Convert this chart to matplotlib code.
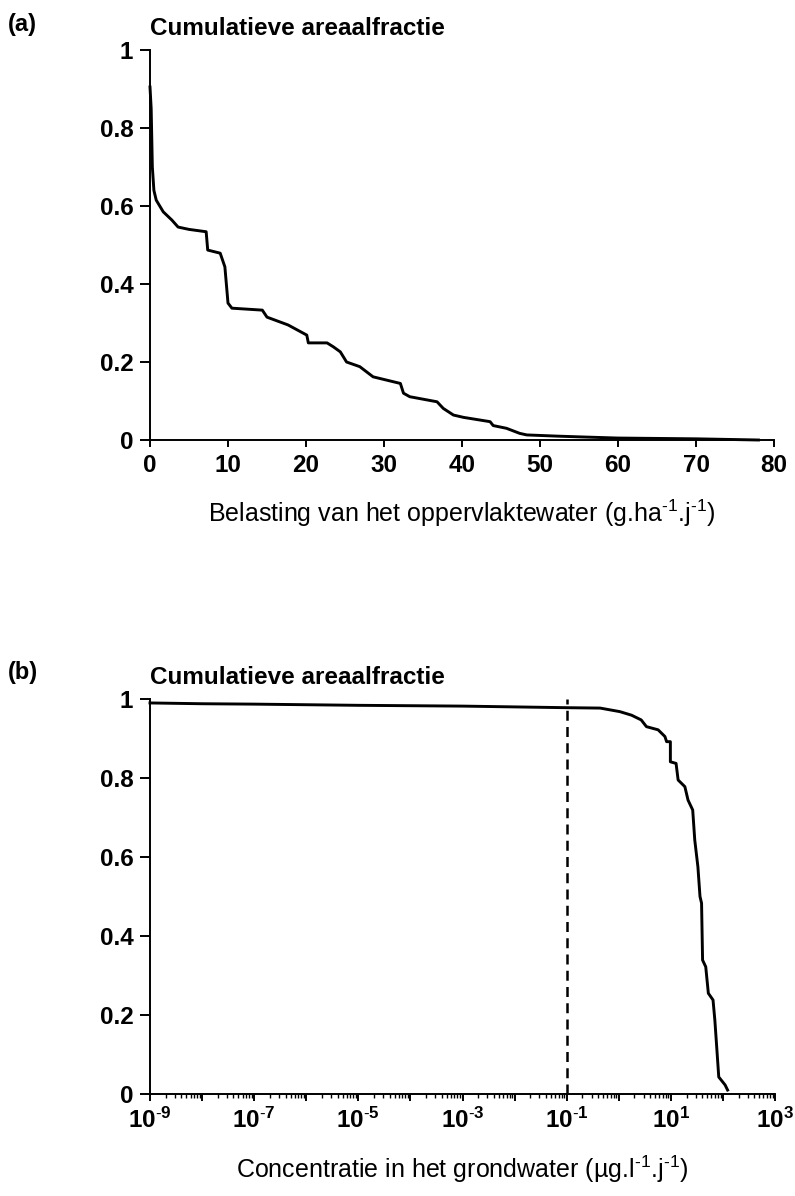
import matplotlib.pyplot as plt
import numpy as np
from matplotlib.ticker import FixedLocator, LogLocator, NullFormatter, FuncFormatter

plt.rcParams['font.family'] = ['Liberation Sans', 'DejaVu Sans']
plt.rcParams['mathtext.fontset'] = 'custom'
plt.rcParams['mathtext.rm'] = 'Liberation Sans'
plt.rcParams['mathtext.it'] = 'Liberation Sans:italic'
plt.rcParams['mathtext.bf'] = 'Liberation Sans:bold'

# (a) load to surface water vs cumulative area fraction
load_x = [0.0, 0.15, 0.3, 0.5, 0.8, 1.7, 2.8, 3.6, 5.0, 7.2, 7.4, 9.0, 9.6, 10.0,
          10.5, 14.4, 15.0, 17.7, 20.1, 20.3, 22.7, 23.5, 24.4, 25.2, 26.9, 28.6,
          32.1, 32.5, 33.3, 36.8, 37.6, 38.9, 40.2, 43.6, 44.0, 45.7, 47.4, 48.3,
          52.1, 55.1, 60.0, 70.0, 78.0]
load_frac = [0.905, 0.85, 0.70, 0.64, 0.615, 0.585, 0.564, 0.546, 0.540, 0.534,
             0.487, 0.479, 0.444, 0.351, 0.338, 0.333, 0.315, 0.295, 0.269, 0.249,
             0.249, 0.239, 0.226, 0.200, 0.188, 0.162, 0.145, 0.120, 0.111, 0.098,
             0.081, 0.064, 0.058, 0.047, 0.037, 0.030, 0.017, 0.013, 0.010, 0.008,
             0.005, 0.003, 0.0]

# (b) groundwater concentration vs cumulative area fraction
conc_x = [1e-9, 1e-8, 1e-7, 1e-5, 1e-3, 0.1, 0.44, 1.05, 1.76, 2.7, 3.4, 5.7, 7.7,
          8.3, 9.8, 9.8, 12.6, 13.8, 18.6, 21.4, 26.3, 28.8, 33.1, 36.3, 38.9,
          40.7, 46.8, 52.5, 64.6, 70.0, 75.9, 83.2, 110.0, 123.0]
conc_frac = [0.99, 0.988, 0.987, 0.984, 0.982, 0.978, 0.977, 0.968, 0.959, 0.947,
             0.930, 0.922, 0.905, 0.892, 0.892, 0.841, 0.837, 0.795, 0.778, 0.744,
             0.719, 0.643, 0.575, 0.500, 0.483, 0.339, 0.322, 0.255, 0.238, 0.187,
             0.120, 0.043, 0.023, 0.010]
norm_value = 0.1

y_ticks = [0, 0.2, 0.4, 0.6, 0.8, 1]
y_ticklabels = ['0', '0.2', '0.4', '0.6', '0.8', '1']
load_ticks = [0, 10, 20, 30, 40, 50, 60, 70, 80]
conc_labelled = [-9, -7, -5, -3, -1, 1, 3]

W, H = 795, 1196
fig = plt.figure(figsize=(W / 100, H / 100), dpi=100)


def frame(left, top, right, bottom):
    return fig.add_axes([left / W, 1 - bottom / H, (right - left) / W, (bottom - top) / H])


def style_ax(ax):
    for s in ['top', 'right']:
        ax.spines[s].set_visible(False)
    for s in ['left', 'bottom']:
        ax.spines[s].set_linewidth(1.4)
    ax.set_ylim(0, 1)
    ax.yaxis.set_major_locator(FixedLocator(y_ticks))
    ax.set_yticklabels(y_ticklabels)
    ax.tick_params(axis='y', direction='out', length=7, width=1.4, pad=5)
    ax.tick_params(axis='x', direction='out', length=5, width=1.4, pad=5)
    for lab in ax.get_yticklabels() + ax.get_xticklabels():
        lab.set_fontsize(17.5)
        lab.set_fontweight('bold')
    ax.set_title('Cumulatieve areaalfractie', loc='left', fontsize=17.5,
                 fontweight='bold', pad=11)


def sup(e):
    return r'$\mathregular{10^{\text{-}%d}}$' % -e if e < 0 else r'$\mathregular{10^{%d}}$' % e


# Plot A
axA = frame(150, 50, 774, 440)
axA.plot(load_x, load_frac, color='black', lw=2.1, clip_on=False)
axA.set_xlim(0, 80)
axA.xaxis.set_major_locator(FixedLocator(load_ticks))
style_ax(axA)
axA.set_xlabel(r'Belasting van het oppervlaktewater (g.ha$^{\text{-}1}$.j$^{\text{-}1}$)',
               fontsize=18, labelpad=15)

# Plot B
axB = frame(150, 699, 775, 1094)
axB.set_xscale('log')
axB.plot(conc_x, conc_frac, color='black', lw=2.1, clip_on=False)
axB.vlines(norm_value, 0, 1, colors='black', lw=1.8, linestyles=(0, (4, 2.5)))
axB.set_xlim(1e-9, 1e3)
axB.xaxis.set_major_locator(LogLocator(base=10, numticks=30))
axB.xaxis.set_minor_locator(LogLocator(base=10, subs=np.arange(2, 10), numticks=30))
axB.xaxis.set_minor_formatter(NullFormatter())
axB.xaxis.set_major_formatter(FuncFormatter(
    lambda v, pos: sup(round(np.log10(v))) if round(np.log10(v)) in conc_labelled else ''))
axB.tick_params(axis='x', which='minor', direction='out', length=3, width=1.0)
style_ax(axB)
axB.set_xlabel(r'Concentratie in het grondwater (µg.l$^{\text{-}1}$.j$^{\text{-}1}$)',
               fontsize=18, labelpad=15)

fig.text(8 / W, 1 - 25 / H, '(a)', fontsize=17, fontweight='bold', va='center')
fig.text(8 / W, 1 - 673 / H, '(b)', fontsize=17, fontweight='bold', va='center')

plt.savefig('out.png', dpi=100)
